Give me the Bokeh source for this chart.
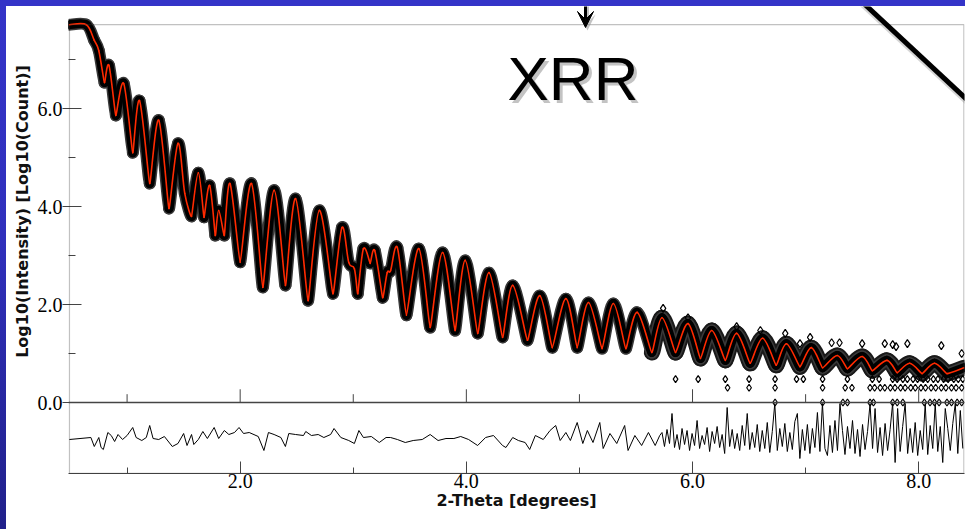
import numpy as np
from bokeh.plotting import figure
from bokeh.layouts import row, column
from bokeh.models import (Range1d, FixedTicker, PrintfTickFormatter, Span, Spacer,
                          BoxAnnotation, Label, Arrow, VeeHead)
from bokeh.embed import file_html
from bokeh.resources import INLINE

# ---- reflectivity curve (extrema): 2-theta [deg], log10(counts)
two_theta = [0.49, 0.64, 0.71, 0.75, 0.80, 0.84, 0.90, 0.97, 1.05, 1.11, 1.20, 1.28, 1.37, 1.45,
             1.51, 1.57, 1.63, 1.68, 1.73, 1.78, 1.81, 1.86, 1.91, 2.00, 2.10, 2.20, 2.30, 2.40,
             2.49, 2.60, 2.70, 2.82, 2.90, 2.96, 3.01, 3.04, 3.09, 3.15, 3.19, 3.26, 3.30, 3.33,
             3.39, 3.47, 3.58, 3.68, 3.79, 3.90, 3.99, 4.10, 4.20, 4.32, 4.41, 4.54, 4.65, 4.76,
             4.88, 4.98, 5.08, 5.20, 5.30, 5.41, 5.51, 5.64, 5.73, 5.85, 5.96, 6.07, 6.17, 6.29,
             6.39, 6.51, 6.62, 6.74, 6.83, 6.95, 7.05, 7.15, 7.28, 7.37, 7.50, 7.59, 7.72, 7.81,
             7.92, 8.03, 8.14, 8.25, 8.40]
log_intensity = [7.71, 7.71, 7.39, 7.18, 6.53, 6.88, 5.86, 6.51, 5.10, 6.16, 4.47, 5.76, 3.96, 5.29,
                 4.27, 3.80, 4.69, 3.78, 4.43, 3.41, 3.92, 3.41, 4.47, 2.86, 4.47, 2.35, 4.33, 2.39,
                 4.16, 2.08, 3.92, 2.22, 3.57, 2.86, 2.73, 2.22, 3.14, 2.84, 3.10, 2.14, 2.65, 2.69,
                 3.16, 1.78, 3.14, 1.53, 3.06, 1.47, 2.90, 1.41, 2.65, 1.33, 2.39, 1.27, 2.18, 1.12,
                 2.12, 1.12, 2.04, 1.10, 2.02, 1.10, 1.84, 1.02, 1.73, 1.02, 1.61, 0.90, 1.47, 0.86,
                 1.41, 0.80, 1.31, 0.76, 1.20, 0.73, 1.12, 0.71, 0.96, 0.69, 0.94, 0.65, 0.86, 0.61,
                 0.80, 0.59, 0.80, 0.59, 0.71]

# scattered high observations in the tail
tail_x = [5.74, 5.96, 6.39, 6.60, 6.82, 6.95, 7.04, 7.23, 7.30, 7.50, 7.70, 7.77, 7.80, 7.90, 8.20, 8.38]
tail_y = [1.92, 1.73, 1.55, 1.47, 1.41, 1.20, 1.33, 1.22, 1.22, 1.20, 1.20, 1.18, 1.14, 1.20, 1.16, 1.00]

# low-count observations (3, 2 and 1 counts)
three_x = [5.85, 6.05, 6.29, 6.50, 6.73, 6.92, 6.98, 7.15, 7.37, 7.59, 7.65, 7.77, 7.81, 7.86,
           7.90, 7.95, 7.99, 8.04, 8.08, 8.13, 8.17, 8.22, 8.26, 8.31, 8.35, 8.39]
two_x = [6.31, 6.50, 6.73, 7.15, 7.35, 7.41, 7.57, 7.61, 7.66, 7.70, 7.75, 7.79, 7.84, 7.88,
         7.93, 7.97, 8.02, 8.06, 8.11, 8.15, 8.20, 8.24, 8.29, 8.33, 8.38]
one_x = [6.73, 7.15, 7.33, 7.37, 7.57, 7.60, 7.77, 7.81, 7.86, 8.05, 8.10, 8.14, 8.18, 8.25,
         8.29, 8.34, 8.38]
three_y = [0.477] * len(three_x)
two_y = [0.301] * len(two_x)
one_y = [0.0] * len(one_x)

# ---- difference curve (arbitrary units)
res_x_a = [0.49, 0.68, 0.71, 0.75, 0.77, 0.79, 0.83, 0.86, 0.89, 0.92, 0.96, 1.00, 1.05, 1.08,
           1.13, 1.17, 1.20, 1.23, 1.28, 1.33, 1.40, 1.45, 1.50, 1.53, 1.57, 1.59, 1.63, 1.67,
           1.71, 1.77, 1.81, 1.86, 1.90, 1.95, 1.99, 2.03, 2.08, 2.16, 2.21, 2.25, 2.30, 2.36,
           2.40, 2.43, 2.49, 2.56, 2.58, 2.63, 2.69, 2.74, 2.80, 2.83, 2.89, 2.96, 3.01, 3.05,
           3.09, 3.16, 3.23, 3.29, 3.33, 3.39, 3.46, 3.53, 3.61, 3.68, 3.75, 3.82, 3.89, 3.95,
           4.02, 4.10, 4.17, 4.24, 4.32, 4.35, 4.41, 4.46, 4.52, 4.56, 4.61, 4.68, 4.74, 4.79,
           4.83, 4.88, 4.92, 4.98, 5.03, 5.07, 5.12, 5.18, 5.21, 5.27, 5.33, 5.40, 5.43, 5.49,
           5.55, 5.61, 5.67, 5.71]
res_a = [-0.1, 0.1, -0.8, 0.1, -0.9, -1.1, 0.6, 0.3, -0.3, 0.4, -0.1, 0.3, 1.1, 0.1,
         -0.2, 0.1, 1.3, 0.0, -0.1, 0.2, -0.8, -0.5, 0.5, -0.7, 0.4, -0.6, -0.1, 0.7,
         0.0, 1.1, 0.0, 0.8, 0.4, 0.6, 1.1, 0.5, 0.6, 0.2, -1.2, 0.6, 0.4, 0.1,
         -0.8, 0.5, 0.4, 0.3, 0.7, 0.3, 0.4, 0.1, 0.4, 1.0, 0.1, -0.2, -0.5, 0.8,
         0.1, 0.2, -0.4, 0.1, 0.1, -0.1, -0.4, -0.2, -0.1, 0.4, -0.2, 0.0, 0.0, 0.2,
         -0.1, -0.7, 0.1, 0.3, -0.7, -0.9, 0.1, -0.2, -0.4, -1.1, 0.3, -0.1, 0.8, 1.3,
         -0.2, 0.6, -0.2, 1.6, -0.5, 0.8, -0.4, 1.6, -1.0, 0.5, -0.5, 1.3, -1.2, 0.3,
         -0.7, 0.6, -0.7, 0.3]
res_b = [0.6, -0.8, 0.9, -0.5, 2.5, -0.9, 0.4, -1.1, 1.0, -0.6,
         0.8, -1.2, 0.5, -0.7, 1.8, -1.0, 0.3, -0.6, 1.1, -1.3,
         0.7, -0.5, 1.2, -0.9, 0.4, -1.5, 3.1, -0.8, 0.9, -1.0,
         0.5, -1.2, 1.3, -0.7, 2.5, -1.1, 0.6, -0.9, 1.4, -1.3,
         0.8, -1.0, 1.6, -1.4, 0.7, 3.5, -1.2, 1.0, -0.8, 1.5,
         -1.3, 0.6, -1.1, 1.7, 2.5, -2.0, 0.9, -1.2, 1.4, -1.5,
         1.0, -0.9, 2.6, -1.3, 3.5, -1.0, -1.7, 1.3, -1.4, 1.8,
         -1.2, 3.5, 0.8, -1.6, 1.2, -1.0, 1.8, -1.5, 0.9, -1.8,
         1.4, -1.1, 0.7, 3.5, -1.0, 3.0, -1.4, 1.1, -1.7, 1.5,
         -1.2, 0.9, 3.5, -2.4, 3.0, -1.3, 1.2, 3.5, -1.5, 1.0,
         -1.4, 1.6, -1.7, 0.8, -1.1, 3.5, -1.6, 1.3, -1.0, 3.5,
         -1.3, 1.2, -2.4, 3.0, 1.0, -1.2, 1.5, 3.5, -1.5, 2.8,
         -1.0]
res_x_b = list(np.linspace(5.73, 8.39, len(res_b)))
res_x = res_x_a + res_x_b
res_y = res_a + res_b

x_major = [2.0, 4.0, 6.0, 8.0]
x_minor = [1.0, 3.0, 5.0, 7.0]
y_major = [0.0, 2.0, 4.0, 6.0]
y_minor = [1.0, 3.0, 5.0, 7.0]

AX = "#444444"
SERIF = "Liberation Serif"
SANS = "DejaVu Sans"
BLUE = "#3434c8"


def blank(w, h, bg):
    f = figure(width=w, height=h, output_backend="svg", toolbar_location=None, title=None,
               x_range=Range1d(0, 1), y_range=Range1d(0, 1),
               x_axis_location=None, y_axis_location=None,
               min_border=0, min_border_left=0, min_border_right=0,
               min_border_top=0, min_border_bottom=0,
               background_fill_color=bg, border_fill_color=bg)
    f.grid.visible = False
    f.outline_line_color = None
    return f


# ---------------- main figure (window x 34..965, y 6..529)
p = figure(width=931, height=523, output_backend="svg", toolbar_location=None, title=None,
           x_range=Range1d(0.482, 8.405), y_range=Range1d(-1.449, 8.082),
           min_border_left=34, min_border_right=1, min_border_top=0, min_border_bottom=56,
           background_fill_color="white", border_fill_color="white")
p.grid.visible = False
p.outline_line_color = None
p.extra_y_ranges = {"res": Range1d(-3.5, 43.2)}

xa = p.xaxis[0]
xa.ticker = FixedTicker(ticks=x_major, minor_ticks=x_minor)
xa.formatter = PrintfTickFormatter(format="%.1f")
xa.major_tick_in = 12
xa.major_tick_out = 0
xa.minor_tick_in = 6
xa.minor_tick_out = 0
xa.major_label_standoff = 0
xa.major_label_text_font = SERIF
xa.major_label_text_font_size = "20px"
xa.major_label_text_color = "black"
xa.axis_label = "2-Theta [degrees]"
xa.axis_label_text_font = SANS
xa.axis_label_text_font_style = "bold"
xa.axis_label_text_font_size = "16px"
xa.axis_label_text_color = "#111111"
xa.axis_label_standoff = 0
xa.axis_line_color = AX
xa.major_tick_line_color = AX
xa.minor_tick_line_color = AX

ya = p.yaxis[0]
ya.ticker = FixedTicker(ticks=y_major, minor_ticks=y_minor)
ya.formatter = PrintfTickFormatter(format="%.1f")
ya.major_tick_in = 13
ya.major_tick_out = 6
ya.minor_tick_in = 7
ya.minor_tick_out = 0
ya.major_label_standoff = 0
ya.major_label_text_font = SERIF
ya.major_label_text_font_size = "20px"
ya.major_label_text_color = "black"
ya.axis_line_color = None
ya.major_tick_line_color = AX
ya.minor_tick_line_color = AX

# panel boxes and divider
p.add_layout(BoxAnnotation(left=0.49, right=8.40, top=7.714, bottom=-1.449,
                           fill_alpha=0, line_color="#333333", line_width=1.3))
p.add_layout(Span(location=0, dimension="width", line_color=AX, line_width=1.3))
p.segment(x0=x_major, y0=[0] * len(x_major), x1=x_major, y1=[0.27] * len(x_major),
          line_color=AX, line_width=1)
p.segment(x0=x_minor, y0=[0] * len(x_minor), x1=x_minor, y1=[0.17] * len(x_minor),
          line_color=AX, line_width=1)

# smooth curve through the read extrema, drawn with cubic Bezier segments
X = np.array(two_theta)
Y = np.array(log_intensity)
n = len(X)
tx = np.zeros(n)
ty = np.zeros(n)
for i in range(n):
    a, b = max(i - 1, 0), min(i + 1, n - 1)
    tx[i] = (X[b] - X[a]) / 2
    ty[i] = (Y[b] - Y[a]) / 2
    if 0 < i < n - 1 and Y[i] < Y[i - 1] and Y[i] < Y[i + 1]:
        tx[i] *= 0.35
        ty[i] *= 0.35
bz = dict(x0=X[:-1], y0=Y[:-1], x1=X[1:], y1=Y[1:],
          cx0=X[:-1] + tx[:-1] / 3, cy0=Y[:-1] + ty[:-1] / 3,
          cx1=X[1:] - tx[1:] / 3, cy1=Y[1:] - ty[1:] / 3)
tail = X[:-1] >= 5.6
bz_tail = {k: v[tail] for k, v in bz.items()}

# observed data: dense band of diamonds
p.bezier(**bz_tail, line_color="#1a1a1a", line_width=16, line_cap="round")
p.bezier(**bz, line_color="#3a3a3a", line_width=12, line_cap="round")
p.bezier(**bz, line_color="black", line_width=9, line_cap="round")
p.scatter(two_theta, log_intensity, marker="diamond", size=9, fill_color="black",
          line_color="black", line_width=1)
p.scatter(tail_x, tail_y, marker="diamond", size=8, fill_color=None,
          line_color="black", line_width=1.2)
for xs, ys in ((three_x, three_y), (two_x, two_y), (one_x, one_y)):
    p.scatter(xs, ys, marker="diamond", size=7, fill_color=None,
              line_color="black", line_width=1.2)

# calculated curve
p.bezier(**bz, line_color="#ff2a00", line_width=1.6, line_cap="round")

# difference curve
p.line(res_x, res_y, y_range_name="res", line_color="black", line_width=1)

# slide decorations inside the main canvas (canvas px)
p.add_layout(Label(x=476, y=75, x_units="canvas", y_units="canvas", text="XRR",
                   text_font="Liberation Sans", text_font_size="62px",
                   text_baseline="middle", text_color="#888888", text_alpha=0.5))
p.add_layout(Label(x=473, y=72, x_units="canvas", y_units="canvas", text="XRR",
                   text_font="Liberation Sans", text_font_size="62px",
                   text_baseline="middle", text_color="black"))
p.add_layout(Arrow(x_start=553, y_start=-10, x_end=553, y_end=24, start_units="canvas",
                   end_units="canvas", line_width=3, line_color="#888888", line_alpha=0.5,
                   end=VeeHead(size=16, fill_color="#888888", fill_alpha=0.5, line_alpha=0)))
p.add_layout(Arrow(x_start=551, y_start=-10, x_end=551, y_end=21, start_units="canvas",
                   end_units="canvas", line_width=3, line_color="black",
                   end=VeeHead(size=16, fill_color="black", line_color="black")))
p.add_layout(Arrow(x_start=826, y_start=-4, x_end=943, y_end=105, start_units="canvas",
                   end_units="canvas", line_width=6, line_color="#888888", line_alpha=0.35,
                   start=None, end=None))
p.add_layout(Arrow(x_start=824, y_start=-8, x_end=941, y_end=101, start_units="canvas",
                   end_units="canvas", line_width=5, line_color="black",
                   start=None, end=None))

# ---------------- y-axis title column (window x 6..34)
title_fig = blank(28, 523, "white")
title_fig.add_layout(Label(x=16, y=205, x_units="canvas", y_units="canvas", angle=np.pi / 2,
                           text="Log10(Intensity) [Log10(Count)]", text_align="center",
                           text_baseline="middle", text_font=SANS, text_font_style="bold",
                           text_font_size="16px", text_color="#111111"))

# ---------------- blue slide edges (window x 6..965, y 0..6)
top_strip = blank(959, 6, BLUE)
top_strip.add_layout(Arrow(x_start=579, y_start=-5, x_end=579, y_end=12, start_units="canvas",
                           end_units="canvas", line_width=3, line_color="black",
                           start=None, end=None))
top_strip.add_layout(Arrow(x_start=852, y_start=-2, x_end=869, y_end=14, start_units="canvas",
                           end_units="canvas", line_width=5, line_color="black",
                           start=None, end=None))

left_strip = Spacer(width=6, height=529,
                    styles={"background": "linear-gradient(#3434c8, #3030bc 45%, #20208a)"})

inner = row(title_fig, p, spacing=0, styles={"background-color": "white"})
right_part = column(top_strip, inner, spacing=0)
layout = row(left_strip, right_part, spacing=0, styles={"background-color": BLUE})

open("out.html", "w").write(file_html(layout, INLINE))
